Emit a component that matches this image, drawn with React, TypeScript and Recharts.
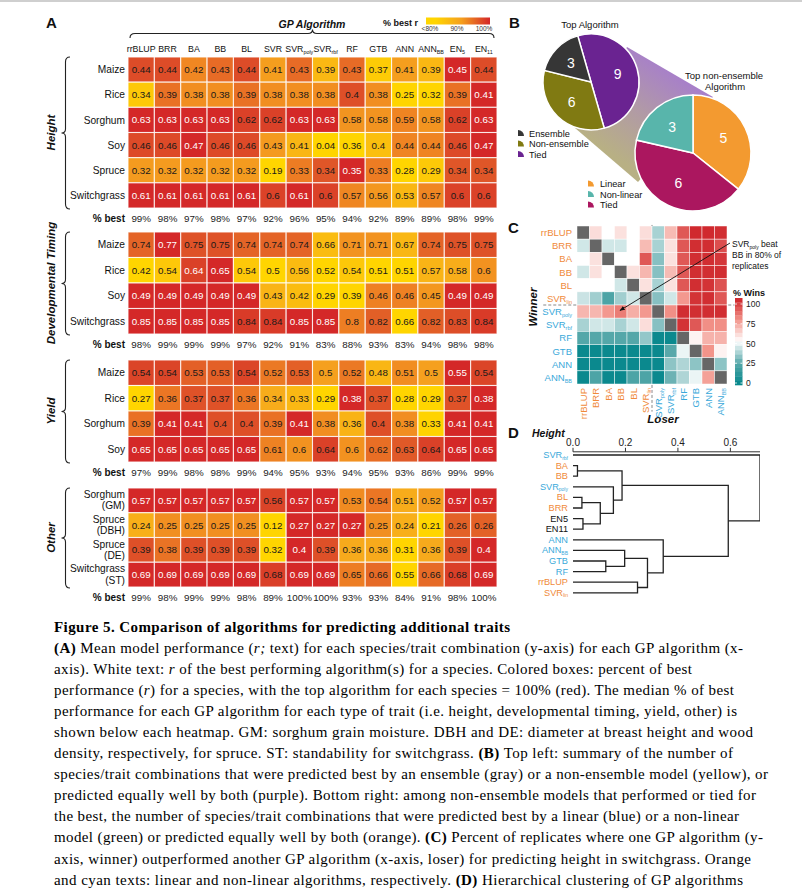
import React from "react"
import { ScatterChart, Scatter, XAxis, YAxis, PieChart, Pie, Cell, ReferenceLine } from "recharts"

const SANS = "'Liberation Sans', Arial, Helvetica, sans-serif"
const SERIF = "'Liberation Serif', 'Times New Roman', Times, serif"

// ---------- A: mean r for each species/trait and GP algorithm ----------
const algorithmsA = ["rrBLUP", "BRR", "BA", "BB", "BL", "SVR", "SVR_poly", "SVR_rbf", "RF", "GTB", "ANN", "ANN_BB", "EN_5", "EN_11"]

const heightTraits = ["Maize", "Rice", "Sorghum", "Soy", "Spruce", "Switchgrass"]
const heightR = [
  [0.44, 0.44, 0.42, 0.43, 0.44, 0.41, 0.43, 0.39, 0.43, 0.37, 0.41, 0.39, 0.45, 0.44],
  [0.34, 0.39, 0.38, 0.38, 0.39, 0.38, 0.38, 0.38, 0.4, 0.38, 0.25, 0.32, 0.39, 0.41],
  [0.63, 0.63, 0.63, 0.63, 0.62, 0.62, 0.63, 0.63, 0.58, 0.58, 0.59, 0.58, 0.62, 0.63],
  [0.46, 0.46, 0.47, 0.46, 0.46, 0.43, 0.41, 0.04, 0.36, 0.4, 0.44, 0.44, 0.46, 0.47],
  [0.32, 0.32, 0.32, 0.32, 0.32, 0.19, 0.33, 0.34, 0.35, 0.33, 0.28, 0.29, 0.34, 0.34],
  [0.61, 0.61, 0.61, 0.61, 0.61, 0.6, 0.61, 0.6, 0.57, 0.56, 0.53, 0.57, 0.6, 0.6],
]
const heightBest = [0.45, 0.41, 0.63, 0.47, 0.35, 0.61]
const heightPctBest = [99, 98, 97, 98, 97, 92, 96, 95, 94, 92, 89, 89, 98, 99]

const timingTraits = ["Maize", "Rice", "Soy", "Switchgrass"]
const timingR = [
  [0.74, 0.77, 0.75, 0.75, 0.74, 0.74, 0.74, 0.66, 0.71, 0.71, 0.67, 0.74, 0.75, 0.75],
  [0.42, 0.54, 0.64, 0.65, 0.54, 0.5, 0.56, 0.52, 0.54, 0.51, 0.51, 0.57, 0.58, 0.6],
  [0.49, 0.49, 0.49, 0.49, 0.49, 0.43, 0.42, 0.29, 0.39, 0.46, 0.46, 0.45, 0.49, 0.49],
  [0.85, 0.85, 0.85, 0.85, 0.84, 0.84, 0.85, 0.85, 0.8, 0.82, 0.66, 0.82, 0.83, 0.84],
]
const timingBest = [0.77, 0.64, 0.49, 0.85]
const timingPctBest = [98, 99, 99, 99, 97, 92, 91, 83, 88, 93, 83, 94, 98, 98]

const yieldTraits = ["Maize", "Rice", "Sorghum", "Soy"]
const yieldR = [
  [0.54, 0.54, 0.53, 0.53, 0.54, 0.52, 0.53, 0.5, 0.52, 0.48, 0.51, 0.5, 0.55, 0.54],
  [0.27, 0.36, 0.37, 0.37, 0.36, 0.34, 0.33, 0.29, 0.38, 0.37, 0.28, 0.29, 0.37, 0.38],
  [0.39, 0.41, 0.41, 0.4, 0.4, 0.39, 0.41, 0.38, 0.36, 0.4, 0.38, 0.33, 0.41, 0.41],
  [0.65, 0.65, 0.65, 0.65, 0.65, 0.61, 0.6, 0.64, 0.6, 0.62, 0.63, 0.64, 0.65, 0.65],
]
const yieldBest = [0.55, 0.38, 0.41, 0.65]
const yieldPctBest = [97, 99, 98, 98, 99, 94, 95, 93, 94, 95, 93, 86, 99, 99]

const otherTraits = ["Sorghum\n(GM)", "Spruce\n(DBH)", "Spruce\n(DE)", "Switchgrass\n(ST)"]
const otherR = [
  [0.57, 0.57, 0.57, 0.57, 0.57, 0.56, 0.57, 0.57, 0.53, 0.54, 0.51, 0.52, 0.57, 0.57],
  [0.24, 0.25, 0.25, 0.25, 0.25, 0.12, 0.27, 0.27, 0.27, 0.25, 0.24, 0.21, 0.26, 0.26],
  [0.39, 0.38, 0.39, 0.39, 0.39, 0.32, 0.4, 0.39, 0.36, 0.36, 0.31, 0.36, 0.39, 0.4],
  [0.69, 0.69, 0.69, 0.69, 0.69, 0.68, 0.69, 0.69, 0.65, 0.66, 0.55, 0.66, 0.68, 0.69],
]
const otherBest = [0.57, 0.27, 0.4, 0.69]
const otherPctBest = [99, 98, 99, 99, 98, 89, 100, 100, 93, 93, 84, 91, 98, 100]

// ---------- B: counts of top algorithms ----------
const topAlgoGroups = ["Tied", "Non-ensemble", "Ensemble"]
const topAlgoCounts = [9, 6, 3]
const topNonEnsGroups = ["Linear", "Tied", "Non-linear"]
const topNonEnsCounts = [5, 6, 3]

// ---------- C: % of replicates where row algorithm beat column algorithm ----------
const algorithmsC = ["rrBLUP", "BRR", "BA", "BB", "BL", "SVR_lin", "SVR_poly", "SVR_rbf", "RF", "GTB", "ANN", "ANN_BB"]
const linearC = [true, true, true, true, true, true, false, false, false, false, false, false]
const pctWins = [
  [null, 58, 50, 57, 50, 58, 37, 66, 88, 98, 98, 97],
  [43, null, 43, 43, 50, 66, 37, 57, 88, 97, 97, 90],
  [50, 57, null, 50, 50, 88, 32, 57, 88, 97, 97, 95],
  [43, 57, 50, null, 57, 67, 32, 66, 88, 97, 97, 97],
  [50, 50, 50, 43, null, 57, 37, 57, 88, 97, 96, 89],
  [42, 36, 22, 36, 43, null, 32, 43, 74, 96, 97, 88],
  [67, 67, 74, 80, 69, 74, null, 76, 97, 97, 97, 97],
  [37, 43, 43, 37, 43, 58, 32, null, 96, 88, 76, 76],
  [24, 24, 24, 24, 24, 34, 3, 3, null, 53, 68, 68],
  [3, 3, 3, 3, 3, 3, 3, 25, 47, null, 75, 53],
  [3, 3, 3, 3, 3, 3, 3, 33, 38, 33, null, 33],
  [3, 22, 3, 3, 22, 22, 3, 28, 38, 47, 72, null],
]
const winTicks = [100, 75, 50, 25, 0]

// ---------- D: hierarchical clustering (height) ----------
const leavesD = ["SVR_rbf", "BA", "BB", "SVR_poly", "BL", "BRR", "EN5", "EN11", "ANN", "ANN_BB", "GTB", "RF", "rrBLUP", "SVR_lin"]
const leafKindD = ["n", "l", "l", "n", "l", "l", "e", "e", "n", "n", "n", "n", "l", "l"]
// hclust style merges: negative = leaf (1-based), positive = earlier merge (1-based)
const mergeLeft = [-2, -5, -7, 2, -4, 1, -11, -10, -13, 8, -9, 6, -1]
const mergeRight = [-3, -6, -8, 3, 4, 5, -12, 7, -14, 9, 10, 11, 12]
const mergeHeight = [0.017, 0.034, 0.038, 0.104, 0.154, 0.187, 0.125, 0.197, 0.246, 0.284, 0.344, 0.592, 0.713]
const heightTicks = [0, 0.2, 0.4, 0.6]

// ---------- caption ----------
const captionTitle = "Figure 5. Comparison of algorithms for predicting additional traits"
const captionLines = [
  "**(A)** Mean model performance (_r;_ text) for each species/trait combination (y-axis) for each GP algorithm (x-",
  "axis). White text: _r_ of the best performing algorithm(s) for a species. Colored boxes: percent of best",
  "performance (_r_) for a species, with the top algorithm for each species = 100% (red). The median % of best",
  "performance for each GP algorithm for each type of trait (i.e. height, developmental timing, yield, other) is",
  "shown below each heatmap. GM: sorghum grain moisture. DBH and DE: diameter at breast height and wood",
  "density, respectively, for spruce. ST: standability for switchgrass. **(B)** Top left: summary of the number of",
  "species/trait combinations that were predicted best by an ensemble (gray) or a non-ensemble model (yellow), or",
  "predicted equally well by both (purple). Bottom right: among non-ensemble models that performed or tied for",
  "the best, the number of species/trait combinations that were predicted best by a linear (blue) or a non-linear",
  "model (green) or predicted equally well by both (orange). **(C)** Percent of replicates where one GP algorithm (y-",
  "axis, winner) outperformed another GP algorithm (x-axis, loser) for predicting height in switchgrass. Orange",
  "and cyan texts: linear and non-linear algorithms, respectively.  **(D)** Hierarchical clustering of GP algorithms",
]
const captionEnds = [743, 692, 734, 737, 753, 733, 768, 756, 739, 763, 751, 743]

// ---------- helpers ----------
type RGB = number[]
function scaleColor(stops: [number, RGB][], v: number) {
  if (v <= stops[0][0]) return `rgb(${stops[0][1].join(",")})`
  for (let i = 1; i < stops.length; i++) {
    const [v1, c1] = stops[i]
    const [v0, c0] = stops[i - 1]
    if (v <= v1) {
      const t = (v - v0) / (v1 - v0)
      return `rgb(${c0.map((c, k) => Math.round(c + (c1[k] - c) * t)).join(",")})`
    }
  }
  return `rgb(${stops[stops.length - 1][1].join(",")})`
}
const stopsA: [number, RGB][] = [
  [0.8, [255, 213, 0]],
  [0.9, [247, 170, 28]],
  [0.94, [238, 128, 35]],
  [0.97, [224, 88, 40]],
  [1, [212, 40, 40]],
]
const stopsC: [number, RGB][] = [[0, [0, 133, 138]], [25, [88, 168, 170]], [50, [255, 255, 255]], [75, [242, 148, 138]], [100, [205, 32, 38]]]

const ORANGE = "#f08a3a"
const CYAN = "#3aa9da"

function withSub(name: string, subSize: string, dy: number) {
  const [base, sub] = name.split("_")
  return [
    <tspan key="b">{base}</tspan>,
    sub ? <tspan key="s" fontSize={subSize} dy={dy}>{sub}</tspan> : null,
  ]
}

const colIdxA = algorithmsA.map((_, i) => i)

function HeatBlock({ traits, values, best, pct, top, rowH, header }: any) {
  const n = traits.length
  const headH = header ? 20 : 0
  const footH = 20
  const cw = 369 / 14
  const cells: any[] = []
  values.forEach((row: number[], r: number) => {
    const mx = Math.max(...row)
    row.forEach((v, c) => cells.push({ x: c, y: r, v, ratio: v / mx, white: v >= best[r] }))
  })
  const shape = (p: any) => (
    <g>
      <rect x={p.cx - cw / 2} y={p.cy - rowH / 2} width={cw} height={rowH} fill={scaleColor(stopsA, p.payload.ratio)} stroke="#fff" strokeOpacity={0.8} strokeWidth={1.1} />
      <text x={p.cx} y={p.cy} dy="0.36em" textAnchor="middle" fontSize={9.8} fontFamily={SANS} fill={p.payload.white ? "#fff" : "#1a1a1a"}>
        {p.payload.v}
      </text>
    </g>
  )
  return (
    <div style={{ position: "absolute", left: 40, top: top - headH }}>
      <ScatterChart width={462} height={headH + n * rowH + footH} margin={{ top: 0, right: 5, bottom: 0, left: 0 }}>
        {header && (
          <XAxis xAxisId="top" orientation="top" type="number" dataKey="x" domain={[-0.5, 13.5]} ticks={colIdxA} interval={0}
            height={headH} tickSize={0} tickMargin={0} tickLine={false} axisLine={false} allowDataOverflow
            tick={(p: any) => (
              <text x={p.x} y={p.y - 4.5} textAnchor="middle" fontSize={8.8} fontFamily={SANS} fill="#111">
                {withSub(algorithmsA[p.payload.value], "5.4px", 2)}
              </text>
            )} />
        )}
        <XAxis type="number" dataKey="x" domain={[-0.5, 13.5]} ticks={colIdxA} interval={0} height={footH}
          tickSize={0} tickMargin={0} tickLine={false} axisLine={false} allowDataOverflow
          tick={(p: any) => (
            <text x={p.x} y={p.y + 13.5} textAnchor="middle" fontSize={9.8} fontFamily={SANS} fill="#222">
              {pct[p.payload.value]}%
            </text>
          )} />
        <YAxis type="number" dataKey="y" domain={[-0.5, n - 0.5]} reversed ticks={traits.map((_: any, i: number) => i)} interval={0}
          width={88} tickSize={0} tickMargin={3} tickLine={false} axisLine={false} allowDataOverflow
          tick={(p: any) => {
            const lines = traits[p.payload.value].split("\n")
            return (
              <text x={p.x} y={p.y} textAnchor="end" fontSize={10.2} fontFamily={SANS} fill="#111">
                {lines.map((l: string, i: number) => (
                  <tspan key={i} x={p.x} dy={i === 0 ? (lines.length === 1 ? "0.36em" : "-0.22em") : "1.1em"}>{l}</tspan>
                ))}
              </text>
            )
          }} />
        <Scatter data={cells} shape={shape} isAnimationActive={false} />
        {header && <Scatter xAxisId="top" data={cells} shape={() => <g />} isAnimationActive={false} />}
      </ScatterChart>
    </div>
  )
}

const blocksA = [
  { label: "Height", traits: heightTraits, values: heightR, best: heightBest, pct: heightPctBest, top: 57, rowH: 25.17, header: true },
  { label: "Developmental Timing", traits: timingTraits, values: timingR, best: timingBest, pct: timingPctBest, top: 232, rowH: 25.5, header: false },
  { label: "Yield", traits: yieldTraits, values: yieldR, best: yieldBest, pct: yieldPctBest, top: 360, rowH: 25.5, header: false },
  { label: "Other", traits: otherTraits, values: otherR, best: otherBest, pct: otherPctBest, top: 488, rowH: 24.75, header: false },
]

function vBrace(y0: number, y1: number) {
  const m = (y0 + y1) / 2
  return `M70 ${y0} Q65.5 ${y0} 65.5 ${y0 + 5} L65.5 ${m - 4} Q65.5 ${m} 61.5 ${m} Q65.5 ${m} 65.5 ${m + 4} L65.5 ${y1 - 5} Q65.5 ${y1} 70 ${y1}`
}

// ---------- B ----------
const RAD = Math.PI / 180
const pieLabel = (p: any) => {
  const r = p.outerRadius * 0.58
  const x = p.cx + r * Math.cos(-p.midAngle * RAD)
  const y = p.cy + r * Math.sin(-p.midAngle * RAD)
  return (
    <text x={x} y={y} dy="0.36em" textAnchor="middle" fontSize={14} fontFamily={SANS} fill="#fff">
      {p.value}
    </text>
  )
}
const topAlgoColors: Record<string, string> = { Tied: "#6a2391", "Non-ensemble": "#807a12", Ensemble: "#363636" }
const nonEnsColors: Record<string, string> = { Linear: "#f39a30", Tied: "#ab175f", "Non-linear": "#58b5ab" }

function PanelB() {
  const topData = topAlgoGroups.map((name, i) => ({ name, value: topAlgoCounts[i] }))
  const botData = topNonEnsGroups.map((name, i) => ({ name, value: topNonEnsCounts[i] }))
  return (
    <div style={{ position: "absolute", left: 505, top: 0, width: 297, height: 220 }}>
      <svg width={297} height={220} style={{ position: "absolute", left: 0, top: 0 }}>
        <defs>
          <linearGradient id="band" gradientUnits="userSpaceOnUse" x1={100} y1={150} x2={160} y2={65}>
            <stop offset="0" stopColor="#b8b084" />
            <stop offset="0.5" stopColor="#b19aa6" />
            <stop offset="1" stopColor="#a77fca" />
          </linearGradient>
        </defs>
        <polygon points="122,47 208,97 133,182 70,128" fill="url(#band)" />
      </svg>
      <div style={{ position: "absolute", left: 0, top: 0 }}>
        <PieChart width={297} height={220} margin={{ top: 0, right: 0, bottom: 0, left: 0 }}>
          <Pie data={topData} dataKey="value" nameKey="name" cx={86} cy={82} outerRadius={48} startAngle={106} endAngle={-254}
            stroke="#fff" strokeWidth={1.5} label={pieLabel} labelLine={false} isAnimationActive={false}>
            {topData.map((d) => <Cell key={d.name} fill={topAlgoColors[d.name]} />)}
          </Pie>
          <Pie data={botData} dataKey="value" nameKey="name" cx={188} cy={153} outerRadius={58} startAngle={90} endAngle={-270}
            stroke="#fff" strokeWidth={1.5} label={pieLabel} labelLine={false} isAnimationActive={false}>
            {botData.map((d) => <Cell key={d.name} fill={nonEnsColors[d.name]} />)}
          </Pie>
        </PieChart>
      </div>
    </div>
  )
}

// ---------- C ----------
const colIdxC = algorithmsC.map((_, i) => i)
function PanelC() {
  const cells: any[] = []
  pctWins.forEach((row, r) => row.forEach((v, c) => cells.push({ x: c, y: r, v })))
  const cw = 150 / 12
  const ch = 158 / 12
  const shape = (p: any) => (
    <rect x={p.cx - cw / 2} y={p.cy - ch / 2} width={cw} height={ch}
      fill={p.payload.v === null ? "#666" : scaleColor(stopsC, p.payload.v)} stroke="#fff" strokeOpacity={0.8} strokeWidth={0.6} />
  )
  return (
    <div style={{ position: "absolute", left: 505, top: 215 }}>
      <ScatterChart width={297} height={210} margin={{ top: 11, right: 75, bottom: 0, left: 0 }}>
        <XAxis type="number" dataKey="x" domain={[-0.5, 11.5]} ticks={colIdxC} interval={0} height={41}
          tickSize={0} tickMargin={4} tickLine={false} axisLine={false} allowDataOverflow
          tick={(p: any) => (
            <text x={p.x} y={p.y} transform={`rotate(-90, ${p.x}, ${p.y})`} dy="0.36em" textAnchor="end" fontSize={9.5} fontFamily={SANS}
              fill={linearC[p.payload.value] ? ORANGE : CYAN}>
              {withSub(algorithmsC[p.payload.value], "5.5px", 2)}
            </text>
          )} />
        <YAxis type="number" dataKey="y" domain={[-0.5, 11.5]} reversed ticks={colIdxC} interval={0} width={72}
          tickSize={0} tickMargin={5} tickLine={false} axisLine={false} allowDataOverflow
          tick={(p: any) => (
            <text x={p.x} y={p.y} dy="0.36em" textAnchor="end" fontSize={9.5} fontFamily={SANS}
              fill={linearC[p.payload.value] ? ORANGE : CYAN}>
              {withSub(algorithmsC[p.payload.value], "5.5px", 2)}
            </text>
          )} />
        <Scatter data={cells} shape={shape} isAnimationActive={false} />
        <ReferenceLine segment={[{ x: 5.5, y: -0.58 }, { x: 5.5, y: 13.6 }]} ifOverflow="visible" stroke="#888" strokeDasharray="3 2" strokeWidth={1} />
        <ReferenceLine segment={[{ x: -3.2, y: 5.5 }, { x: 12.1, y: 5.5 }]} ifOverflow="visible" stroke="#888" strokeDasharray="3 2" strokeWidth={1} />
      </ScatterChart>
    </div>
  )
}

// ---------- D ----------
function buildLinks() {
  const nodes: { h: number; y: number }[] = []
  const pos = (ref: number) => (ref < 0 ? { h: 0, y: -ref - 1 } : nodes[ref - 1])
  const links: { x: number; y: number }[][] = []
  mergeHeight.forEach((h, i) => {
    const a = pos(mergeLeft[i])
    const b = pos(mergeRight[i])
    links.push([{ x: a.h, y: a.y }, { x: h, y: a.y }, { x: h, y: b.y }, { x: b.h, y: b.y }])
    nodes.push({ h, y: (a.y + b.y) / 2 })
  })
  return links
}
const leafColor = (k: string) => (k === "l" ? ORANGE : k === "n" ? CYAN : "#111")

function PanelD() {
  const links = buildLinks()
  return (
    <div style={{ position: "absolute", left: 505, top: 420 }}>
      <ScatterChart width={297} height={180} margin={{ top: 11.8, right: 42, bottom: 4, left: 0 }}>
        <XAxis type="number" dataKey="x" orientation="top" domain={[0, 0.713]} ticks={heightTicks} interval={0} height={20}
          tickSize={4} tickMargin={2} stroke="#333" allowDataOverflow
          tick={(p: any) => (
            <text x={p.x} y={p.y} textAnchor="middle" fontSize={10} fontFamily={SANS} fill="#222">
              {Number(p.payload.value).toFixed(1)}
            </text>
          )} />
        <YAxis type="number" dataKey="y" domain={[-0.3, 13.3]} reversed ticks={leavesD.map((_, i) => i)} interval={0} width={68}
          tickSize={0} tickMargin={5} tickLine={false} axisLine={false} allowDataOverflow
          tick={(p: any) => (
            <text x={p.x} y={p.y} dy="0.33em" textAnchor="end" fontSize={9.2} fontFamily={SANS} fill={leafColor(leafKindD[p.payload.value])}>
              {withSub(leavesD[p.payload.value], "5px", 1.6)}
            </text>
          )} />
        {links.map((pts, i) => (
          <Scatter key={i} data={pts} line={{ stroke: "#222", strokeWidth: 1.3 }} lineType="joint" shape={() => <g />} isAnimationActive={false} />
        ))}
      </ScatterChart>
    </div>
  )
}

// ---------- caption ----------
function richText(line: string) {
  return line.split(/(\*\*.+?\*\*|_.+?_)/).filter(Boolean).map((seg, i) => {
    if (seg.startsWith("**")) return <tspan key={i} fontWeight="bold">{seg.slice(2, -2)}</tspan>
    if (seg.startsWith("_")) return <tspan key={i} fontStyle="italic">{seg.slice(1, -1)}</tspan>
    return <tspan key={i}>{seg}</tspan>
  })
}

function Overlay() {
  const wins = Array.from({ length: 20 }, (_, i) => i)
  const barTop = 298
  const barH = 87
  const tickY = (v: number) => 383 - (v / 100) * 79
  return (
    <svg width={802} height={888} style={{ position: "absolute", left: 0, top: 0, pointerEvents: "none" }} fontFamily={SANS}>
      <defs>
        <linearGradient id="pctBest" x1="0" x2="1" y1="0" y2="0">
          <stop offset="0" stopColor="rgb(255,213,0)" />
          <stop offset="0.15" stopColor="rgb(255,213,0)" />
          <stop offset="0.55" stopColor="rgb(245,160,30)" />
          <stop offset="1" stopColor="rgb(212,38,40)" />
        </linearGradient>
        <marker id="arrow" viewBox="0 0 10 10" refX="9" refY="5" markerWidth="6" markerHeight="6" orient="auto-start-reverse">
          <path d="M0 1 L10 5 L0 9 Z" fill="#111" />
        </marker>
      </defs>

      {/* panel letters */}
      <text x={46} y={28} fontSize={15} fontWeight="bold" fill="#111">A</text>
      <text x={509} y={28} fontSize={15} fontWeight="bold" fill="#111">B</text>
      <text x={508} y={233} fontSize={15} fontWeight="bold" fill="#111">C</text>
      <text x={508} y={438} fontSize={15} fontWeight="bold" fill="#111">D</text>

      {/* A header */}
      <text x={312} y={28} textAnchor="middle" fontSize={10.5} fontWeight="bold" fontStyle="italic" fill="#111">GP Algorithm</text>
      <path d="M130 38 Q130 33.5 135 33.5 L308 33.5 Q312.5 33.5 312.5 29.5 Q312.5 33.5 317 33.5 L489 33.5 Q494 33.5 494 38" fill="none" stroke="#222" strokeWidth={1.1} />
      <text x={383} y={26} fontSize={9} fontWeight="bold" fill="#111">% best r</text>
      <rect x={426} y={17.5} width={64} height={7} fill="url(#pctBest)" />
      <text x={430} y={31} textAnchor="middle" fontSize={6.5} fill="#333">{"<80%"}</text>
      <text x={457} y={31} textAnchor="middle" fontSize={6.5} fill="#333">90%</text>
      <text x={484} y={31} textAnchor="middle" fontSize={6.5} fill="#333">100%</text>

      {/* A group labels, braces and % best row titles */}
      {blocksA.map((b) => {
        const y1 = b.top + b.traits.length * b.rowH
        const mid = (b.top + y1) / 2
        return (
          <g key={b.label}>
            <path d={vBrace(b.top, y1 + 1)} fill="none" stroke="#222" strokeWidth={1.1} />
            <text x={51} y={mid} transform={`rotate(-90, 51, ${mid})`} dy="0.36em" textAnchor="middle" fontSize={11.5} fontWeight="bold" fontStyle="italic" fill="#111">{b.label}</text>
            <text x={125} y={y1 + 13.5} textAnchor="end" fontSize={10} fontWeight="bold" fill="#111">% best</text>
          </g>
        )
      })}

      {/* B titles and legends */}
      <text x={590} y={28} textAnchor="middle" fontSize={9.5} fill="#111">Top Algorithm</text>
      <text x={724} y={79} textAnchor="middle" fontSize={9.5} fill="#111">Top non-ensemble</text>
      <text x={725} y={90} textAnchor="middle" fontSize={9.5} fill="#111">Algorithm</text>
      {["Ensemble", "Non-ensemble", "Tied"].map((name, i) => (
        <g key={name}>
          <path d={`M518 ${136 + i * 10.5} L518 ${130 + i * 10.5} A6 6 0 0 1 524 ${136 + i * 10.5} Z`} fill={topAlgoColors[name]} />
          <text x={529} y={136.5 + i * 10.5} fontSize={9.2} fill="#111">{name}</text>
        </g>
      ))}
      {["Linear", "Non-linear", "Tied"].map((name, i) => (
        <g key={name}>
          <path d={`M588 ${186.5 + i * 10.5} L588 ${180.5 + i * 10.5} A6 6 0 0 1 594 ${186.5 + i * 10.5} Z`} fill={nonEnsColors[name]} />
          <text x={600} y={187 + i * 10.5} fontSize={9.2} fill="#111">{name}</text>
        </g>
      ))}

      {/* C labels, colour bar and annotation */}
      <text x={533} y={307} transform="rotate(-90, 533, 307)" dy="0.36em" textAnchor="middle" fontSize={11.5} fontWeight="bold" fontStyle="italic" fill="#111">Winner</text>
      <text x={663} y={423} textAnchor="middle" fontSize={11.5} fontWeight="bold" fontStyle="italic" fill="#111">Loser</text>
      <text x={733} y={296} fontSize={9} fontWeight="bold" fill="#111">% Wins</text>
      {wins.map((i) => (
        <rect key={i} x={735} y={barTop + (i * barH) / 20} width={7.5} height={barH / 20 + 0.3} fill={scaleColor(stopsC, 100 - (i + 0.5) * 5)} />
      ))}
      {winTicks.map((v) => (
        <g key={v}>
          <line x1={735} x2={737} y1={tickY(v)} y2={tickY(v)} stroke="#fff" strokeWidth={0.8} />
          <line x1={740.5} x2={742.5} y1={tickY(v)} y2={tickY(v)} stroke="#fff" strokeWidth={0.8} />
          <text x={746} y={tickY(v)} dy="0.36em" fontSize={8.5} fill="#222">{v}</text>
        </g>
      ))}
      <text x={732} y={247} fontSize={8.5} fill="#111">
        <tspan>SVR</tspan><tspan fontSize="5px" dy={2}>poly</tspan><tspan dy={-2}> beat</tspan>
      </text>
      <text x={732} y={258} fontSize={8.5} fill="#111">BB in 80% of</text>
      <text x={732} y={268.5} fontSize={8.5} fill="#111">replicates</text>
      <line x1={730} y1={243} x2={620} y2={310.5} stroke="#111" strokeWidth={0.9} markerEnd="url(#arrow)" />

      {/* D title */}
      <text x={532} y={437} fontSize={10.5} fontWeight="bold" fontStyle="italic" fill="#111">Height</text>

      {/* caption */}
      <g fontFamily={SERIF} fill="#000">
        <text x={54} y={632} fontSize={15} fontWeight="bold" textLength={456} lengthAdjust="spacing">{captionTitle}</text>
        {captionLines.map((line, i) => (
          <text key={i} x={54} y={652.5 + i * 21.1} fontSize={15} textLength={captionEnds[i] - 54} lengthAdjust="spacing">
            {richText(line)}
          </text>
        ))}
      </g>
    </svg>
  )
}

export default function App() {
  return (
    <div style={{ position: "absolute", left: 0, top: 0, width: 802, height: 888, background: "#fff", overflow: "hidden", fontFamily: SANS }}>
      <div style={{ position: "absolute", left: 0, top: 0, width: 802, height: 2, background: "#cfcfcf" }} />
      {blocksA.map((b) => (
        <HeatBlock key={b.label} traits={b.traits} values={b.values} best={b.best} pct={b.pct} top={b.top} rowH={b.rowH} header={b.header} />
      ))}
      <PanelB />
      <PanelC />
      <PanelD />
      <Overlay />
    </div>
  )
}
